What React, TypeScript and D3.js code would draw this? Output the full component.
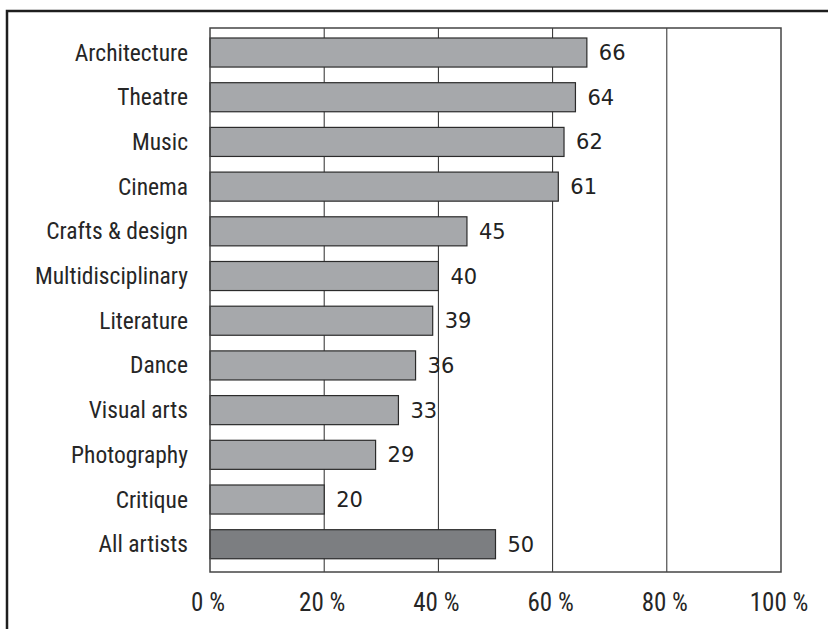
import React from "react";
import * as d3 from "d3";

const categories = [
  "Architecture",
  "Theatre",
  "Music",
  "Cinema",
  "Crafts & design",
  "Multidisciplinary",
  "Literature",
  "Dance",
  "Visual arts",
  "Photography",
  "Critique",
  "All artists",
];
const values = [66, 64, 62, 61, 45, 40, 39, 36, 33, 29, 20, 50];
const highlighted = ["All artists"];
const xTicks = [0, 20, 40, 60, 80, 100];

const W = 828;
const H = 629;
const plot = { left: 210, top: 28, right: 781, bottom: 572 };

export default function App() {
  const x = d3.scaleLinear().domain([0, 100]).range([plot.left, plot.right]);
  const y = d3
    .scaleBand<string>()
    .domain(categories)
    .range([plot.top, plot.bottom])
    .paddingInner(0.35)
    .paddingOuter(0.26)
    .align(0.43);
  const bw = y.bandwidth();
  const condensed = "'Liberation Sans Narrow', 'Arial Narrow', 'Roboto Condensed', sans-serif";

  return (
    <svg
      width={W}
      height={H}
      style={{ position: "absolute", left: 0, top: 0, display: "block", background: "#fff" }}
    >
      <rect x={0} y={0} width={W} height={H} fill="#fff" />
      {/* outer frame */}
      <rect x={7} y={11} width={W + 20} height={H + 20} fill="none" stroke="#1e1e1e" strokeWidth={2.5} />
      {/* gridlines */}
      {xTicks.slice(1, -1).map((t) => (
        <line key={t} x1={x(t)} x2={x(t)} y1={plot.top} y2={plot.bottom} stroke="#2a2a2a" strokeWidth={1} />
      ))}
      {/* bars */}
      {categories.map((c, i) => (
        <g key={c}>
          <rect
            x={x(0)}
            y={y(c)!}
            width={x(values[i]) - x(0)}
            height={bw}
            fill={highlighted.includes(c) ? "#7c7e81" : "#a6a8ab"}
            stroke="#2b2b2b"
            strokeWidth={1.2}
          />
          <text
            x={x(values[i]) + 12}
            y={y(c)! + bw / 2 + 7.5}
            fontFamily="'DejaVu Sans', Verdana, sans-serif"
            fontSize={21}
            fill="#222"
          >
            {values[i]}
          </text>
          <text
            x={plot.left - 22}
            y={y(c)! + bw / 2 + 8}
            textAnchor="end"
            fontFamily={condensed}
            fontSize={23.5}
            fill="#262626"
          >
            {c}
          </text>
        </g>
      ))}
      {/* plot border */}
      <rect
        x={plot.left}
        y={plot.top}
        width={plot.right - plot.left}
        height={plot.bottom - plot.top}
        fill="none"
        stroke="#444"
        strokeWidth={1.5}
      />
      {/* x tick labels */}
      {xTicks.map((t) => (
        <text
          key={t}
          x={x(t) - 2}
          y={611}
          textAnchor="middle"
          fontFamily={condensed}
          fontSize={25}
          fill="#262626"
        >
          {`${t} %`}
        </text>
      ))}
    </svg>
  );
}
